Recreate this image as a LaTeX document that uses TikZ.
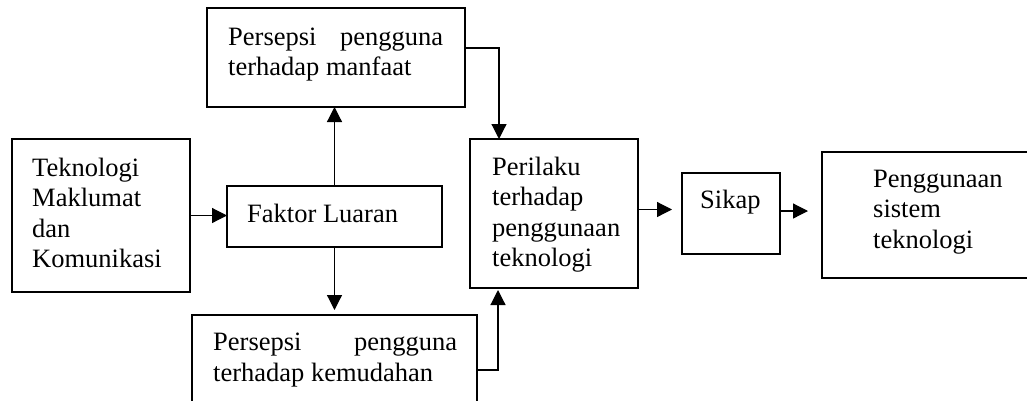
\documentclass[tikz,border=0pt]{standalone}
\usepackage{fontspec}
\setmainfont{Liberation Serif}
\usetikzlibrary{arrows.meta}
\begin{document}
\begin{tikzpicture}[x=1pt,y=-1pt,
  box/.style={draw=black, line width=1.2pt, rectangle, anchor=north west, inner sep=0pt, outer sep=0pt},
  txt/.style={anchor=base west, inner sep=0pt, align=left, font=\fontsize{26.5}{30.5}\selectfont},
  arr/.style={draw=black, line width=1.2pt, -{Triangle[length=15pt,width=15pt]}}]
\useasboundingbox (0,0) rectangle (1027,400);
\clip (0,0) rectangle (1027,400);
% boxes
\node[box, minimum width=258pt, minimum height=99pt] (manfaat) at (207,8) {};
\node[box, minimum width=178pt, minimum height=153pt] (tmk) at (12,139) {};
\node[box, minimum width=215pt, minimum height=61pt] (faktor) at (227,186) {};
\node[box, minimum width=285pt, minimum height=110pt] (kemudahan) at (192,315) {};
\node[box, minimum width=168pt, minimum height=149pt] (perilaku) at (470,139) {};
\node[box, minimum width=98pt, minimum height=81pt] (sikap) at (682,173) {};
\node[box, minimum width=220pt, minimum height=126pt] (guna) at (822,152) {};
% texts (anchor = baseline of last line)
\node[txt] (tmanfaat) at (228,75.5) {\hbox to 215pt{Persepsi\hfill pengguna}\\terhadap manfaat};
\node[txt] (ttmk) at (32,267.5) {Teknologi\\Maklumat\\dan\\Komunikasi};
\node[txt] (tfaktor) at (247,222) {Faktor Luaran};
\node[txt] (tkemudahan) at (213,381) {\hbox to 244pt{Persepsi\hfill pengguna}\\terhadap kemudahan};
\node[txt] (tperilaku) at (492,266.5) {Perilaku\\terhadap\\penggunaan\\teknologi};
\node[txt] (tsikap) at (700,208) {Sikap};
\node[txt] (tguna) at (873,248) {Penggunaan\\sistem\\teknologi};
% connectors
\draw[arr] (tmk.east) -- (tmk.east -| faktor.west);
\draw[arr] (faktor.north) -- (faktor.north |- manfaat.south);
\draw[arr, shorten >=5pt] (faktor.south) -- (faktor.south |- kemudahan.north);
\draw[arr] ([yshift=9.5pt]manfaat.east) -| ([xshift=29pt]perilaku.north west);
\draw[arr, shorten >=2pt] ([yshift=-55pt]kemudahan.north east) -| ([xshift=28pt]perilaku.south west);
\draw[arr, shorten >=10pt] ([yshift=4pt]perilaku.east) -- ([yshift=4pt]perilaku.east -| sikap.west);
\draw[arr, shorten >=14pt] ([yshift=2.5pt]sikap.east) -- ([yshift=2.5pt]sikap.east -| guna.west);
\end{tikzpicture}
\end{document}
